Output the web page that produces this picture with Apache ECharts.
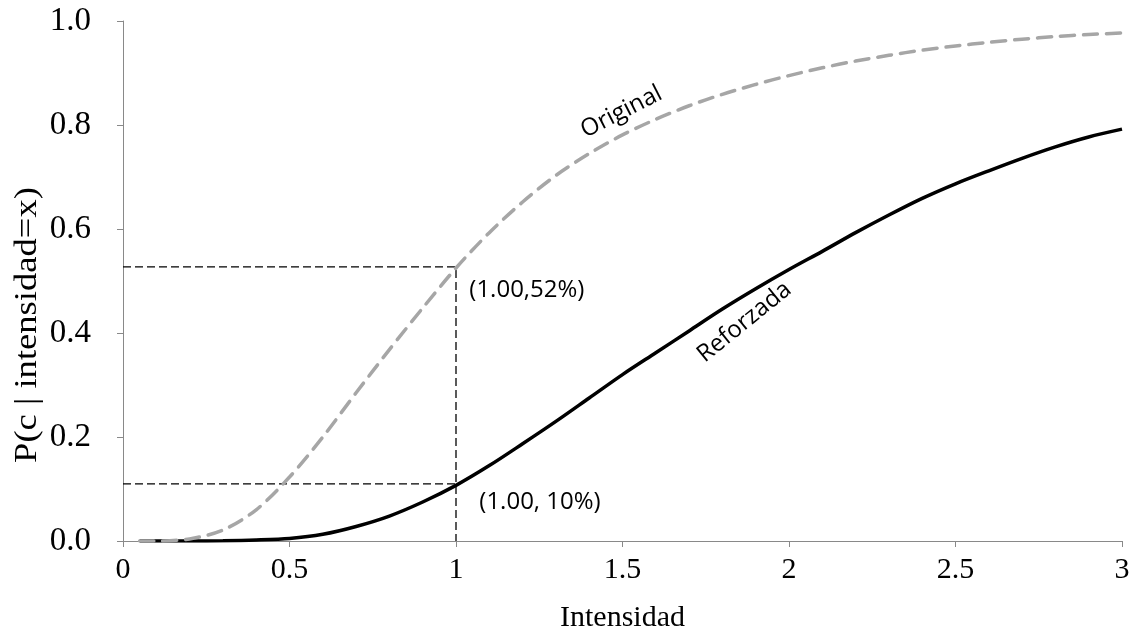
<!DOCTYPE html>
<html>
<head>
<meta charset="utf-8">
<script src="https://cdn.jsdelivr.net/npm/echarts@6/dist/echarts.min.js"></script>
<style>
  html, body { margin: 0; padding: 0; background: #fff; }
  #chart { width: 1135px; height: 637px; }
</style>
</head>
<body>
<div id="chart"></div>
<script>
// datos
var intensidad = [0.05, 0.1, 0.2, 0.3, 0.4, 0.5, 0.6, 0.7, 0.8, 0.9, 1.0,
  1.1, 1.2, 1.3, 1.4, 1.5, 1.6, 1.7, 1.8, 1.9, 2.0,
  2.1, 2.2, 2.3, 2.4, 2.5, 2.6, 2.7, 2.8, 2.9, 3.0];
var original = [0, 0, 0.004, 0.021, 0.060, 0.123, 0.200, 0.285, 0.368, 0.448, 0.525,
  0.593, 0.652, 0.703, 0.745, 0.781, 0.811, 0.837, 0.859, 0.878, 0.895,
  0.910, 0.923, 0.934, 0.944, 0.952, 0.959, 0.965, 0.970, 0.974, 0.977];
var reforzada = [0, 0, 0, 0.0005, 0.002, 0.005, 0.013, 0.028, 0.048, 0.075, 0.107,
  0.145, 0.187, 0.230, 0.275, 0.320, 0.362, 0.404, 0.446, 0.485, 0.522,
  0.557, 0.593, 0.627, 0.659, 0.687, 0.712, 0.736, 0.758, 0.777, 0.792];
var puntoX = 1.0;
var puntoOriginal = 0.527;
var puntoReforzada = 0.11;
var nombres = ['Original', 'Reforzada'];
var notas = ['(1.00,52%)', '(1.00, 10%)'];
var tituloX = 'Intensidad';
var tituloY = 'P(c | intensidad=x)';

function pares(xs, ys) {
  return xs.map(function (x, i) { return [x, ys[i]]; });
}

var chart = echarts.init(document.getElementById('chart'));

var serif = 'Liberation Serif';
var sans = 'Open Sans';

var option = {
  animation: false,
  grid: { left: 123, right: 13, top: 21, bottom: 96, containLabel: false, outerBoundsMode: 'none' },
  // titulo del eje Y como texto propio, algo estirado como en el original
  graphic: [{
    type: 'text',
    x: 28, y: 325,
    rotation: Math.PI / 2,
    scaleX: 1.18,
    style: {
      text: tituloY,
      font: '31px "Liberation Serif"',
      fill: '#000',
      align: 'center',
      verticalAlign: 'middle'
    }
  }],
  xAxis: {
    type: 'value',
    min: 0, max: 3, interval: 0.5,
    name: tituloX,
    nameLocation: 'middle',
    nameGap: 62,
    nameTextStyle: { fontFamily: serif, fontSize: 30, color: '#000' },
    axisLine: { show: true, onZero: false, lineStyle: { color: '#898989', width: 1 } },
    axisTick: { show: true, length: 6, lineStyle: { color: '#898989' } },
    axisLabel: { fontFamily: serif, fontSize: 30, color: '#000', margin: 14 },
    splitLine: { show: false }
  },
  yAxis: {
    type: 'value',
    min: 0, max: 1, interval: 0.2,
    axisLine: { show: true, onZero: false, lineStyle: { color: '#898989', width: 1 } },
    axisTick: { show: true, length: 6, lineStyle: { color: '#898989' } },
    axisLabel: {
      fontFamily: serif, fontSize: 33, color: '#000', margin: 32,
      formatter: function (v) { return v.toFixed(1); }
    },
    splitLine: { show: false }
  },
  series: [
    {
      name: 'guia52',
      type: 'line',
      data: [[0, puntoOriginal], [puntoX, puntoOriginal], [puntoX, 0]],
      showSymbol: false,
      lineStyle: { color: '#000', width: 1.3, type: [8, 4] },
      z: 1
    },
    {
      name: 'guia10',
      type: 'line',
      data: [[0, puntoReforzada], [puntoX, puntoReforzada]],
      showSymbol: false,
      lineStyle: { color: '#000', width: 1.3, type: [8, 4] },
      z: 1
    },
    {
      name: nombres[1],
      type: 'line',
      data: pares(intensidad, reforzada),
      smooth: 0.3,
      showSymbol: false,
      lineStyle: { color: '#000', width: 3.5 },
      z: 2
    },
    {
      name: nombres[0],
      type: 'line',
      data: pares(intensidad, original),
      smooth: 0.3,
      showSymbol: false,
      lineStyle: { color: '#A6A6A6', width: 3.5, type: [14, 9], cap: 'round' },
      z: 3
    },
    {
      name: 'etiquetas',
      type: 'scatter',
      symbolSize: 0,
      silent: true,
      z: 5,
      itemStyle: { opacity: 1 },
      label: {
        show: true,
        position: 'inside',
        fontFamily: sans,
        fontSize: 24,
        color: '#000'
      },
      data: [
        { value: [1.497, 0.825], label: { formatter: nombres[0], rotate: 27 } },
        { value: [1.866, 0.421], label: { formatter: nombres[1], rotate: 39 } },
        { value: [1.04, 0.483], label: { formatter: notas[0], align: 'left' } },
        { value: [1.07, 0.075], label: { formatter: notas[1], align: 'left' } }
      ]
    }
  ]
};

chart.setOption(option);
</script>
</body>
</html>
